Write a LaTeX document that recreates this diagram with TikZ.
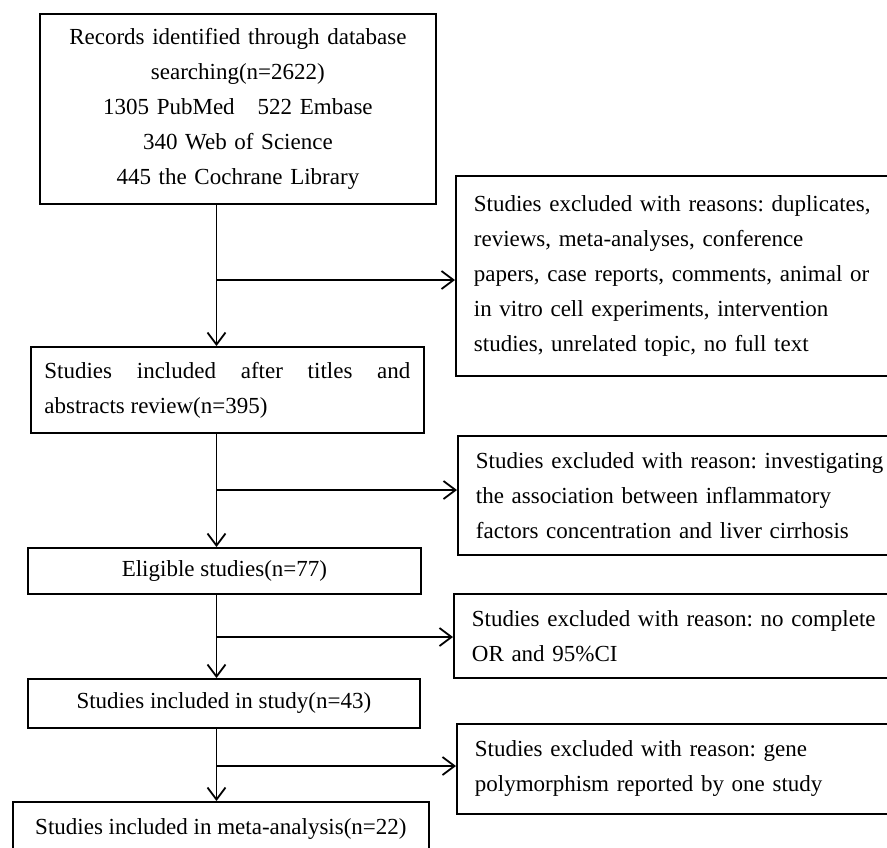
\documentclass[tikz,border=0pt]{standalone}
\usepackage{fontspec}
\setmainfont{Liberation Serif}
\usetikzlibrary{positioning,arrows.meta,calc}

\begin{document}
\frenchspacing
\begin{tikzpicture}[x=0.5pt,y=-0.5pt,
    font=\fontsize{11.5}{17.5}\selectfont,
    >={Straight Barb[length=6pt,width=9pt]},
    box/.style={draw,line width=0.9pt,anchor=north west,inner ysep=0pt},
    mainbox/.style={box,align=center},
    sidebox/.style={box,inner xsep=9pt,text width=210pt,align=left},
    flow/.style={->,line width=0.9pt}]
  \useasboundingbox (0,0) rectangle (887,847);
  \clip (0,0) rectangle (887,847);

  % main column
  \node[mainbox,minimum width=198pt,minimum height=95pt,text width=190pt] (recs) at (39,13)
    {Records identified through database\\searching(n=2622)\\1305 PubMed\quad 522 Embase\\340 Web of Science\\445 the Cochrane Library};
  \node[box,minimum width=196.5pt,minimum height=43pt,text width=183pt,align=justify] (screen) at (30,346)
    {Studies included after titles and\linebreak abstracts review(n=395)};
  \node[mainbox,minimum width=196.5pt,minimum height=23pt] (elig) at (27,547) {Eligible studies(n=77)};
  \node[mainbox,minimum width=196pt,minimum height=24.5pt] (study) at (27,678) {Studies included in study(n=43)};
  \node[mainbox,minimum width=208pt,minimum height=27pt] (meta) at (12,801) {Studies included in meta-analysis(n=22)};

  % exclusions
  \node[sidebox,minimum height=100pt] (excl1) at (455,175)
    {Studies excluded with reasons: duplicates,\\reviews, meta-analyses, conference\\papers, case reports, comments, animal or\\in vitro cell experiments, intervention\\studies, unrelated topic, no full text};
  \node[sidebox,minimum height=59.5pt] (excl2) at (457,435)
    {Studies excluded with reason: investigating\\the association between inflammatory\\factors concentration and liver cirrhosis};
  \node[sidebox,minimum height=42pt] (excl3) at (453,593)
    {Studies excluded with reason: no complete\\OR and 95\%CI};
  \node[sidebox,minimum height=45pt] (excl4) at (456,723)
    {Studies excluded with reason: gene\\polymorphism reported by one study};

  \coordinate (spine) at (216.5,0);
  \coordinate (j1) at (216.5,280);
  \coordinate (j2) at (216.5,490);
  \coordinate (j3) at (216.5,637);
  \coordinate (j4) at (216.5,766);

  \draw[flow] (recs.south -| spine) -- (screen.north -| spine);
  \draw[flow] (screen.south -| spine) -- (elig.north -| spine);
  \draw[flow] (elig.south -| spine) -- (study.north -| spine);
  \draw[flow] (study.south -| spine) -- (meta.north -| spine);
  \foreach \j/\e in {j1/excl1,j2/excl2,j3/excl3,j4/excl4}
    \draw[flow] (\j) -- (\j -| \e.west);
\end{tikzpicture}
\end{document}
